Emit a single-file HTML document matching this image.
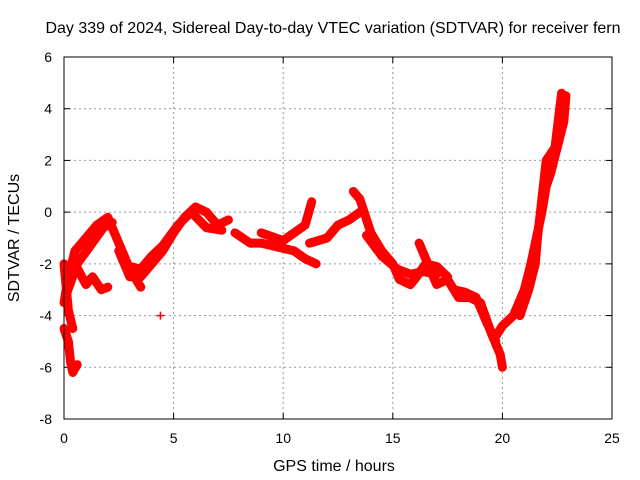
<!DOCTYPE html>
<html><head><meta charset="utf-8"><style>
body{margin:0;background:#fff;}
svg{display:block;font-family:"Liberation Sans",sans-serif;}
</style></head><body>
<svg id="chart" width="640" height="480" viewBox="0 0 640 480">
<text x="333" y="33" font-size="16" text-anchor="middle">Day 339 of 2024, Sidereal Day-to-day VTEC variation (SDTVAR) for receiver fern</text>
<g id="grid"></g>
<g id="ticks"></g>
<g id="data"></g>
<rect x="64" y="57" width="548" height="362" fill="none" stroke="#000" stroke-width="1"/>
<text x="334" y="471" font-size="16" text-anchor="middle">GPS time / hours</text>
<text transform="translate(19,238) rotate(-90)" font-size="16" text-anchor="middle">SDTVAR / TECUs</text>
</svg>
<script>
const xTicks=[0,5,10,15,20,25];
const yTicks=[-8,-6,-4,-2,0,2,4,6];
const trackA_x=[0,0.2,0.3,0.4,0.6];
const trackA_y=[-4.5,-5,-5.8,-6.2,-5.9];
const trackB_x=[0,0.2,0.5,1,1.5,2,2.5,3,3.5];
const trackB_y=[-3.5,-2.5,-1.5,-1,-0.5,-0.2,-1.2,-2.2,-2.9];
const trackB2_x=[0.1,0.6,1.2,1.8,2.2];
const trackB2_y=[-3.2,-2,-1.3,-0.6,-0.4];
const trackC_x=[0.1,0.5,1,1.3,1.7,2];
const trackC_y=[-2.5,-2,-2.8,-2.5,-3,-2.9];
const trackC2_x=[0,0.2,0.4];
const trackC2_y=[-2,-3.8,-4.5];
const trackD_x=[2.5,3,3.5,4,4.5,5,5.5,6,6.5,7,7.5];
const trackD_y=[-1.5,-2.5,-2.5,-2,-1.5,-0.8,-0.2,0.2,0,-0.5,-0.3];
const trackD2_x=[3,3.5,4,4.5,5.2,5.8,6.5,7.2];
const trackD2_y=[-2.1,-2.2,-1.7,-1.3,-0.5,0,-0.6,-0.7];
const trackE_x=[7.8,8.5,9,9.5,10,10.5,11,11.5];
const trackE_y=[-0.8,-1.2,-1.2,-1.3,-1.4,-1.5,-1.8,-2];
const trackF_x=[9,10,10.5,11,11.3];
const trackF_y=[-0.8,-1.1,-0.8,-0.5,0.4];
const trackF2_x=[11.2,12,12.5,13,13.5];
const trackF2_y=[-1.2,-1,-0.5,-0.3,0];
const trackG_x=[13.2,13.5,14,14.5,15,15.3,15.8,16,16.5,17,17.5];
const trackG_y=[0.8,0.5,-0.8,-1.5,-2,-2.6,-2.8,-2.6,-2,-2.1,-2.5];
const trackG2_x=[13.8,14.5,15.2,15.8,16.4,17];
const trackG2_y=[-0.9,-1.7,-2.2,-2.4,-2.3,-2.4];
const trackH_x=[16.2,16.5,17,17.5,18,18.5,19,19.5,19.9,20];
const trackH_y=[-1.2,-1.8,-2.8,-2.6,-3.3,-3.3,-3.5,-4.7,-5.5,-6];
const trackH2_x=[17.8,18.3,18.8,19.3,19.7];
const trackH2_y=[-3,-3.1,-3.3,-4.3,-5];
const trackI_x=[19.7,20,20.5,21,21.3,21.5,21.8,22,22.2,22.5,22.8,22.9];
const trackI_y=[-4.8,-4.4,-4,-3,-2,-1.2,0,1,1.5,2.5,3.5,4.5];
const trackJ_x=[20.8,21.2,21.5,21.6,21.8,22,22.4,22.7];
const trackJ_y=[-4,-3,-2,-1,0.5,2,2.5,4.6];
const outlier_x=[4.4];
const outlier_y=[-4];
const tracks=[[trackA_x,trackA_y],[trackB_x,trackB_y],[trackB2_x,trackB2_y],[trackC_x,trackC_y],[trackC2_x,trackC2_y],[trackD_x,trackD_y],[trackD2_x,trackD2_y],[trackE_x,trackE_y],[trackF_x,trackF_y],[trackF2_x,trackF2_y],[trackG_x,trackG_y],[trackG2_x,trackG2_y],[trackH_x,trackH_y],[trackH2_x,trackH2_y],[trackI_x,trackI_y],[trackJ_x,trackJ_y]];
const X0=64,X1=612,Y0=419,Y1=57;
function sx(h){return X0+(h-0)/(25-0)*(X1-X0);}
function sy(v){return Y0-(v+8)/(14)*(Y0-Y1);}
const NS="http://www.w3.org/2000/svg";
function mk(tag,attrs,parent){const e=document.createElementNS(NS,tag);for(const k in attrs)e.setAttribute(k,attrs[k]);parent.appendChild(e);return e;}
const grid=document.getElementById('grid'),ticks=document.getElementById('ticks'),data=document.getElementById('data');
xTicks.forEach(t=>{
  const x=sx(t);
  if(t>0&&t<25){const g=mk('line',{x1:x,x2:x,y1:Y1,y2:Y0,stroke:'#999','stroke-dasharray':'2,3'},grid);
  
  }
  mk('line',{x1:x,x2:x,y1:Y0,y2:Y0-6,stroke:'#000'},ticks);
  mk('line',{x1:x,x2:x,y1:Y1,y2:Y1+6,stroke:'#000'},ticks);
  const l=mk('text',{x:x,y:Y0+24,'font-size':14,'text-anchor':'middle'},ticks);l.textContent=t;
  
  
});
yTicks.forEach(t=>{
  const y=sy(t);
  if(t>-8&&t<6){const g=mk('line',{x1:X0,x2:X1,y1:y,y2:y,stroke:'#999','stroke-dasharray':'2,3'},grid);
  
  }
  mk('line',{x1:X0,x2:X0+6,y1:y,y2:y,stroke:'#000'},ticks);
  mk('line',{x1:X1,x2:X1-6,y1:y,y2:y,stroke:'#000'},ticks);
  const l=mk('text',{x:X0-12,y:y+5,'font-size':14,'text-anchor':'end'},ticks);l.textContent=t;
  
  
});
tracks.forEach(([xs,ys])=>{
  const pts=xs.map((h,i)=>sx(h)+','+sy(ys[i])).join(' ');
  const p=mk('polyline',{points:pts,fill:'none',stroke:'#f00','stroke-width':9,'stroke-linejoin':'round','stroke-linecap':'round'},data);
  
  
});
outlier_x.forEach((h,i)=>{
  const x=sx(h),y=sy(outlier_y[i]);
  const p=mk('path',{d:`M${x-4},${y}H${x+4}M${x},${y-4}V${y+4}`,stroke:'#f00','stroke-width':1.5},data);
  
  
});
</script>
</body></html>
